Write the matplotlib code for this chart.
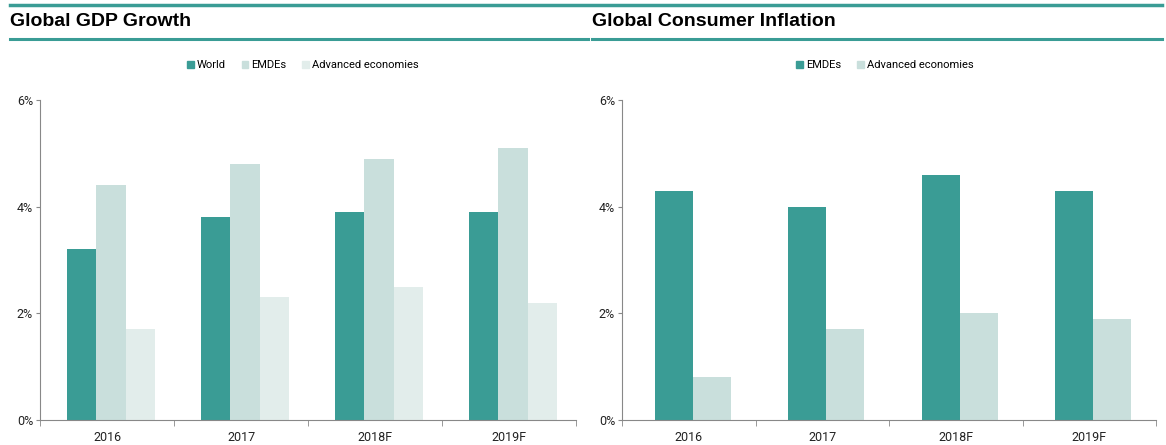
import matplotlib.pyplot as plt
import numpy as np
from matplotlib.lines import Line2D
from matplotlib.patches import Patch

years = ['2016', '2017', '2018F', '2019F']
gdp_world = [3.2, 3.8, 3.9, 3.9]
gdp_emde = [4.4, 4.8, 4.9, 5.1]
gdp_adv = [1.7, 2.3, 2.5, 2.2]
inf_emde = [4.3, 4.0, 4.6, 4.3]
inf_adv = [0.8, 1.7, 2.0, 1.9]

teal = '#3a9c95'
light = '#c9dfdc'
lighter = '#e2edeb'

plt.rcParams['font.family'] = ['Roboto', 'DejaVu Sans']

fig = plt.figure(figsize=(11.66, 4.45), dpi=100)
W, H = 1166, 445


def setup_axes(ax):
    ax.set_xlim(-0.5, 3.5)
    ax.set_ylim(0, 6)
    ax.set_yticks([0, 2, 4, 6])
    ax.set_yticklabels(['0%', '2%', '4%', '6%'])
    ax.set_xticks(range(4))
    ax.set_xticklabels(years)
    ax.set_xticks(np.arange(-0.5, 4, 1), minor=True)
    ax.tick_params(axis='x', which='major', length=0, pad=8, labelsize=9, colors='#222222')
    ax.tick_params(axis='x', which='minor', length=4, color='#888888')
    ax.tick_params(axis='y', length=3, pad=2, color='#888888', labelsize=9, colors='#222222')
    for s in ['top', 'right']:
        ax.spines[s].set_visible(False)
    for s in ['left', 'bottom']:
        ax.spines[s].set_color('#888888')


# left chart
ax1 = fig.add_axes([40 / W, 1 - 420 / H, 536 / W, 320 / H])
x = np.arange(4)
w = 0.22
ax1.bar(x - w + 0.03, gdp_world, w, color=teal, label='World')
ax1.bar(x + 0.03, gdp_emde, w, color=light, label='EMDEs')
ax1.bar(x + w + 0.03, gdp_adv, w, color=lighter, label='Advanced economies')
setup_axes(ax1)
fig.legend(handles=[Patch(color=teal), Patch(color=light), Patch(color=lighter)],
           labels=['World', 'EMDEs', 'Advanced economies'],
           loc='center', bbox_to_anchor=(303 / W, 1 - 65 / H), ncol=3, frameon=False,
           handlelength=0.6, handleheight=0.6, handletextpad=0.3, columnspacing=1.4, fontsize=8)

# right chart
ax2 = fig.add_axes([622 / W, 1 - 420 / H, 534 / W, 320 / H])
w2 = 0.285
ax2.bar(x - w2 / 2 + 0.03, inf_emde, w2, color=teal, label='EMDEs')
ax2.bar(x + w2 / 2 + 0.03, inf_adv, w2, color=light, label='Advanced economies')
setup_axes(ax2)
fig.legend(handles=[Patch(color=teal), Patch(color=light)],
           labels=['EMDEs', 'Advanced economies'],
           loc='center', bbox_to_anchor=(885 / W, 1 - 65 / H), ncol=2, frameon=False,
           handlelength=0.6, handleheight=0.6, handletextpad=0.3, columnspacing=1.4, fontsize=8)

# header rules and titles
fig.add_artist(Line2D([10 / W, 1 - 4 / W], [1 - 4.5 / H] * 2, color=teal, lw=2.5))
fig.add_artist(Line2D([10 / W, 588 / W], [1 - 39 / H] * 2, color=teal, lw=2.2))
fig.add_artist(Line2D([592 / W, 1 - 4 / W], [1 - 39 / H] * 2, color=teal, lw=2.2))
fig.text(10 / W, 1 - 21 / H, 'Global GDP Growth', fontsize=14, fontweight='bold',
         family=['Liberation Sans', 'DejaVu Sans'], va='center')
fig.text(592 / W, 1 - 21 / H, 'Global Consumer Inflation', fontsize=14, fontweight='bold',
         family=['Liberation Sans', 'DejaVu Sans'], va='center')

fig.savefig('out.png', dpi=100)
